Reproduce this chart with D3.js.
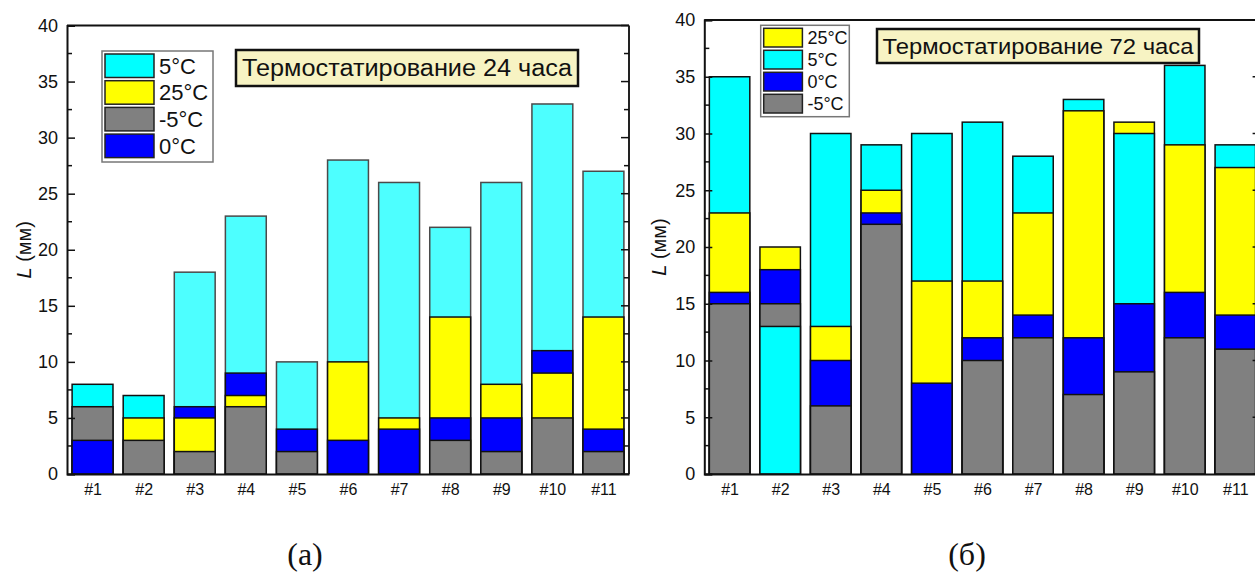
<!DOCTYPE html>
<html><head><meta charset="utf-8">
<script src="https://cdn.jsdelivr.net/npm/d3@7"></script>
<style>body{margin:0;background:#fff}svg{display:block}</style>
</head><body>
<svg id="c" width="1255" height="577"></svg>
<script>
const categories = ["#1","#2","#3","#4","#5","#6","#7","#8","#9","#10","#11"];
const yTicks = [0,5,10,15,20,25,30,35,40];

// Panel (а): 24 hours
const legendA = ["5°C","25°C","-5°C","0°C"];
const a_5C  = [8,7,18,23,10,28,26,22,26,33,27];
const a_25C = [0,5,5,7,0,10,5,14,8,9,14];
const a_m5C = [6,3,2,6,2,0,0,3,2,5,2];
const a_0C  = [3,0,6,9,4,3,4,5,5,11,4];

// Panel (б): 72 hours
const legendB = ["25°C","5°C","0°C","-5°C"];
const b_25C = [23,20,13,25,17,17,23,32,31,29,27];
const b_5C  = [35,13,30,29,30,31,28,33,30,36,29];
const b_0C  = [16,18,10,23,8,12,14,12,15,16,14];
const b_m5C = [15,15,6,22,0,10,12,7,9,12,11];

const titleA = "Термостатирование 24 часа";
const titleB = "Термостатирование 72 часа";

const colors = {"5°C":"#00ffff","25°C":"#ffff00","-5°C":"#808080","0°C":"#0000ff"};

const svg = d3.select("#c");
const font = "'Liberation Sans', Arial, sans-serif";

function panel(cfg){
  const g = svg.append("g");
  const x = d3.scaleLinear().domain([0.5, 11.5]).range([cfg.left, cfg.right]);
  const y = d3.scaleLinear().domain([0, 40]).range([cfg.bottom, cfg.top]);
  const step = x(2) - x(1), bw = step * 0.8;

  // bars: overlapping, larger values behind
  categories.forEach((c, i) => {
    const vals = cfg.series.map(s => ({name: s.name, v: s.values[i]}))
      .filter(d => d.v > 0).sort((a, b) => b.v - a.v);
    g.selectAll(null).data(vals).enter().append("rect")
      .attr("x", x(i + 1) - bw / 2).attr("width", bw)
      .attr("y", d => y(d.v)).attr("height", d => y(0) - y(d.v))
      .attr("fill", d => (cfg.light && d.name === "5°C" && i >= 2) ? "#4dffff" : colors[d.name])
      .attr("stroke", d => (cfg.light && d.name === "5°C" && i >= 2) ? "#4a4a4a" : "#111")
      .attr("stroke-width", 1.5);
  });

  // frame
  g.append("line").attr("x1", cfg.left).attr("x2", cfg.right).attr("y1", cfg.top).attr("y2", cfg.top).attr("stroke", "#111").attr("stroke-width", 2);
  g.append("line").attr("x1", cfg.right).attr("x2", cfg.right).attr("y1", cfg.top).attr("y2", cfg.bottom).attr("stroke", "#222").attr("stroke-width", 2);

  // left axis with inward ticks
  const minor = d3.range(2.5, 40, 5);
  const yl = g.append("g").attr("transform", `translate(${cfg.left},0)`)
    .call(d3.axisLeft(y).tickValues(yTicks).tickSize(-8).tickPadding(9).tickFormat(d3.format("d")));
  yl.select(".domain").attr("stroke", "#111").attr("stroke-width", 2);
  yl.selectAll(".tick line").attr("stroke", "#111").attr("stroke-width", 1.5);
  yl.selectAll(".tick text").attr("font-family", font).attr("font-size", 18).attr("fill", "#111");
  minor.forEach(v => g.append("line").attr("x1", cfg.left).attr("x2", cfg.left + 5).attr("y1", y(v)).attr("y2", y(v)).attr("stroke", "#111").attr("stroke-width", 1.5));

  // right axis ticks
  yTicks.forEach(v => g.append("line").attr("x1", cfg.right).attr("x2", cfg.right - 8).attr("y1", y(v)).attr("y2", y(v)).attr("stroke", "#111").attr("stroke-width", 1.5));
  minor.forEach(v => g.append("line").attr("x1", cfg.right).attr("x2", cfg.right - 5).attr("y1", y(v)).attr("y2", y(v)).attr("stroke", "#111").attr("stroke-width", 1.5));

  // bottom axis
  const xb = g.append("g").attr("transform", `translate(0,${cfg.bottom})`)
    .call(d3.axisBottom(x).tickValues(d3.range(1, 12)).tickSize(0).tickPadding(10).tickFormat(d => categories[d - 1]));
  xb.select(".domain").attr("stroke", "#111").attr("stroke-width", 2);
  xb.selectAll(".tick text").attr("font-family", font).attr("font-size", 16).attr("fill", "#111");

  // y label
  const lab = g.append("text").attr("transform", `translate(${cfg.ylabX},${(cfg.top + cfg.bottom) / 2}) rotate(-90)`)
    .attr("text-anchor", "middle").attr("font-family", font).attr("font-size", 20).attr("fill", "#111");
  lab.append("tspan").attr("font-style", "italic").text("L");
  lab.append("tspan").text(" (мм)");

  // legend
  const L = cfg.legend;
  g.append("rect").attr("x", L.x).attr("y", L.y).attr("width", L.w).attr("height", L.h)
    .attr("fill", "#fff").attr("stroke", "#777").attr("stroke-width", 1.5);
  cfg.legendNames.forEach((n, k) => {
    const yy = L.y + 3 + k * L.step;
    g.append("rect").attr("x", L.x + 3).attr("y", yy).attr("width", L.sw).attr("height", L.sh)
      .attr("fill", colors[n]).attr("stroke", "#222").attr("stroke-width", 1.5);
    g.append("text").attr("x", L.x + L.sw + 8).attr("y", yy + L.sh / 2).attr("dy", "0.36em")
      .attr("font-family", font).attr("font-size", L.fs).attr("fill", "#111").text(n);
  });

  // title box
  const T = cfg.title;
  g.append("rect").attr("x", T.x).attr("y", T.y).attr("width", T.w).attr("height", T.h)
    .attr("fill", "#f7f3c3").attr("stroke", "#111").attr("stroke-width", 2.5);
  g.append("text").attr("x", T.x + T.w / 2).attr("y", T.y + T.h / 2).attr("dy", "0.36em")
    .attr("text-anchor", "middle").attr("font-family", font).attr("font-size", T.fs).attr("fill", "#111")
    .attr("textLength", T.tl).attr("lengthAdjust", "spacingAndGlyphs").text(T.text);

  // panel caption
  g.append("text").attr("x", cfg.capX).attr("y", 565).attr("text-anchor", "middle")
    .attr("font-family", "'Liberation Serif', 'Times New Roman', serif").attr("font-size", 32).attr("fill", "#111").text(cfg.cap);
}

panel({
  left: 67, right: 629, top: 25.5, bottom: 474, ylabX: 31, light: true,
  series: [{name:"5°C", values:a_5C},{name:"25°C", values:a_25C},{name:"-5°C", values:a_m5C},{name:"0°C", values:a_0C}],
  legendNames: legendA,
  legend: {x: 102, y: 51, w: 111, h: 111, step: 26.7, sw: 49, sh: 23.5, fs: 22},
  title: {x: 236, y: 50, w: 342, h: 36, fs: 23, tl: 330, text: titleA},
  cap: "(а)", capX: 305
});
panel({
  left: 704.3, right: 1260.6, top: 20, bottom: 474, ylabX: 666, light: false,
  series: [{name:"25°C", values:b_25C},{name:"5°C", values:b_5C},{name:"0°C", values:b_0C},{name:"-5°C", values:b_m5C}],
  legendNames: legendB,
  legend: {x: 760.7, y: 25.3, w: 88.6, h: 91.4, step: 22, sw: 38.7, sh: 18.7, fs: 18},
  title: {x: 877, y: 29, w: 322, h: 34, fs: 22, tl: 311, text: titleB},
  cap: "(б)", capX: 967
});
</script>
</body></html>
